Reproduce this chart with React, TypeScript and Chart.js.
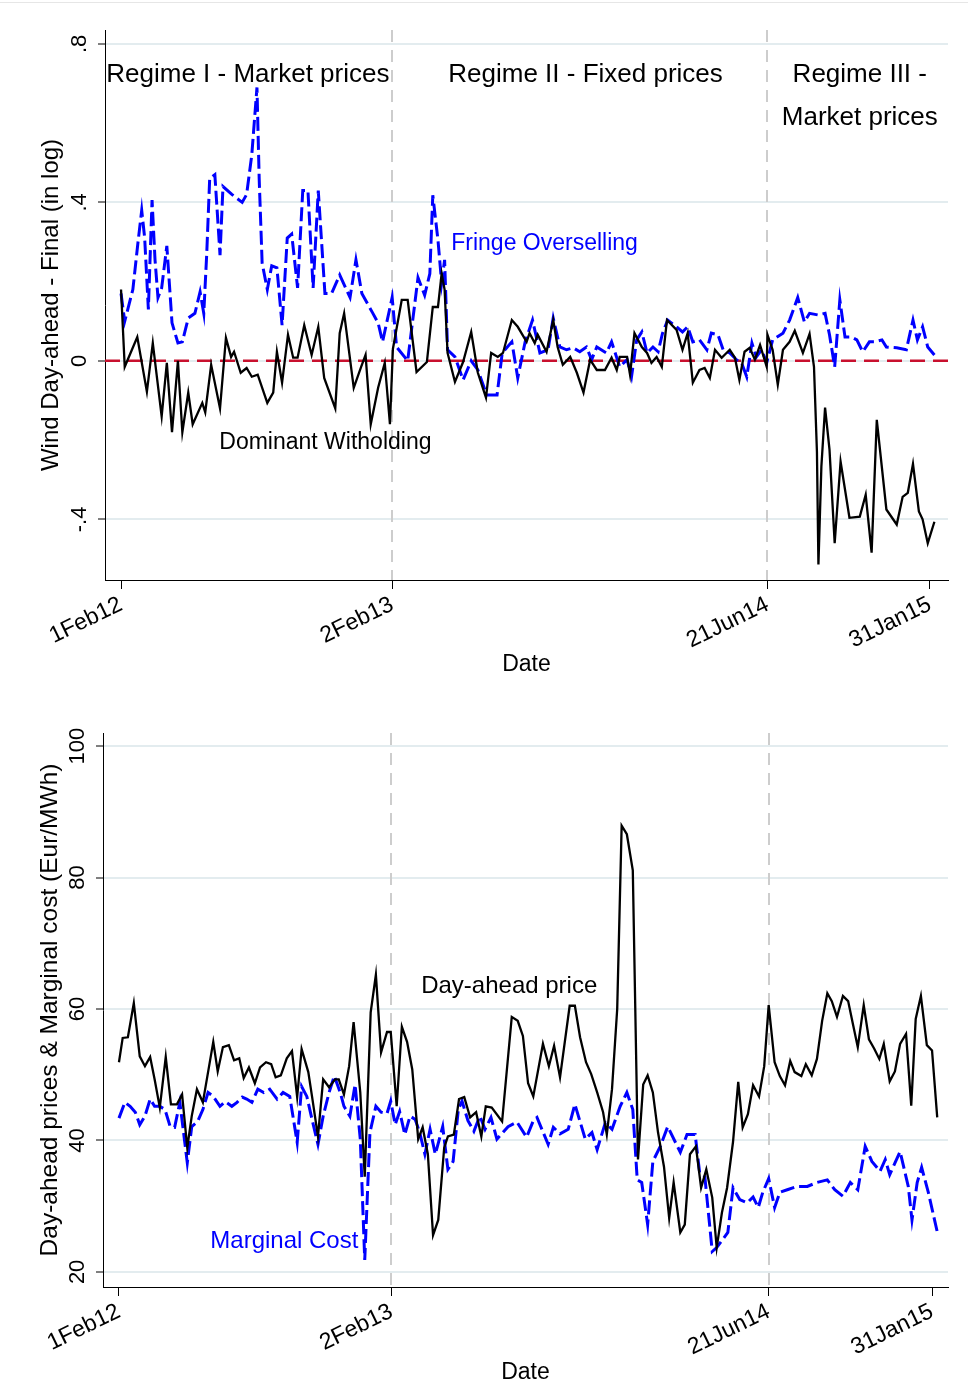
import React, { useEffect, useRef } from 'react';
import { Chart, registerables } from 'chart.js';

Chart.register(...registerables);

const FONT = "'Liberation Sans', Arial, Helvetica, sans-serif";

// ---- shared x-axis (days since 1 Feb 2012) ----
const dateTickDays = [0, 367, 875, 1095];
const dateTickLabels = ['1Feb12', '2Feb13', '21Jun14', '31Jan15'];
const regimeBreakDays = [367, 875];

// ---- top panel: wind day-ahead minus final (log) ----
const topYTicks = [-0.4, 0, 0.4, 0.8];
const topYTickLabels = ['-.4', '0', '.4', '.8'];

const dominantDays = [0, 5, 22, 35, 43, 55, 62, 69, 77, 83, 91, 97, 110, 114, 122, 134, 142, 149, 153, 162, 170, 177, 185, 198, 206, 211, 218, 226, 233, 239, 248, 258, 267, 275, 290, 296, 302, 315, 325, 331, 338, 348, 357, 364, 368, 380, 388, 400, 414, 422, 429, 434, 438, 442, 452, 463, 474, 483, 494, 501, 510, 517, 529, 537, 549, 553, 560, 564, 576, 585, 591, 598, 608, 617, 626, 635, 644, 655, 664, 671, 675, 685, 689, 695, 705, 712, 718, 725, 732, 739, 752, 760, 767, 774, 783, 790, 797, 804, 813, 824, 831, 837, 844, 851, 858, 865, 874, 875, 882, 889, 896, 905, 912, 923, 932, 938, 942, 944, 948, 953, 959, 966, 974, 986, 1000, 1008, 1016, 1023, 1036, 1050, 1058, 1065, 1072, 1080, 1085, 1092, 1101];
const dominantWitholding = [0.18, -0.015, 0.06, -0.078, 0.045, -0.14, -0.005, -0.18, 0.0, -0.18, -0.08, -0.16, -0.106, -0.13, -0.01, -0.12, 0.058, 0.01, 0.023, -0.03, -0.018, -0.04, -0.035, -0.106, -0.08, 0.023, -0.055, 0.066, 0.008, 0.008, 0.09, 0.015, 0.086, -0.043, -0.12, 0.07, 0.12, -0.068, -0.015, 0.015, -0.16, -0.068, -0.005, -0.16, 0.03, 0.154, 0.154, -0.028, -0.003, 0.136, 0.136, 0.22, 0.18, 0.02, -0.053, -0.003, 0.073, -0.03, -0.093, 0.02, 0.01, 0.02, 0.103, 0.086, 0.048, 0.07, 0.045, 0.066, 0.023, 0.103, 0.035, -0.01, 0.01, -0.03, -0.08, 0.003, -0.023, -0.023, 0.008, -0.023, 0.01, 0.01, -0.035, 0.07, 0.035, 0.02, -0.005, 0.01, -0.015, 0.103, 0.078, 0.028, 0.07, -0.055, -0.023, -0.018, -0.043, 0.028, 0.008, 0.028, 0.008, -0.048, 0.023, 0.033, 0.003, 0.04, -0.015, 0.066, 0.028, -0.06, 0.028, 0.048, 0.076, 0.02, 0.068, -0.015, -0.23, -0.514, -0.267, -0.118, -0.224, -0.46, -0.254, -0.396, -0.393, -0.338, -0.484, -0.149, -0.375, -0.413, -0.343, -0.333, -0.26, -0.38, -0.4, -0.46, -0.406];

const fringeDays = [0, 5, 16, 23, 28, 32, 37, 42, 46, 50, 55, 62, 69, 77, 83, 91, 100, 107, 112, 116, 120, 127, 134, 138, 150, 164, 170, 177, 184, 187, 191, 198, 204, 211, 218, 225, 231, 239, 246, 253, 260, 267, 276, 285, 296, 310, 318, 326, 340, 348, 354, 367, 373, 388, 402, 411, 418, 422, 429, 434, 438, 442, 452, 463, 474, 483, 495, 509, 516, 529, 537, 547, 557, 567, 578, 585, 594, 603, 612, 621, 630, 637, 644, 657, 664, 675, 685, 691, 698, 705, 712, 720, 727, 733, 740, 752, 760, 767, 774, 783, 793, 799, 808, 815, 824, 833, 840, 847, 854, 860, 867, 874, 882, 896, 905, 916, 925, 932, 943, 953, 959, 966, 973, 980, 989, 996, 1004, 1013, 1020, 1030, 1036, 1050, 1063, 1072, 1078, 1085, 1092, 1101];
const fringeOverselling = [0.17, 0.1, 0.18, 0.3, 0.38, 0.31, 0.13, 0.406, 0.255, 0.16, 0.184, 0.29, 0.096, 0.045, 0.048, 0.108, 0.12, 0.174, 0.12, 0.27, 0.46, 0.47, 0.267, 0.44, 0.42, 0.4, 0.42, 0.52, 0.69, 0.46, 0.247, 0.18, 0.24, 0.235, 0.09, 0.31, 0.32, 0.184, 0.43, 0.43, 0.184, 0.43, 0.17, 0.17, 0.217, 0.16, 0.255, 0.17, 0.123, 0.096, 0.048, 0.16, 0.035, 0.0, 0.21, 0.166, 0.22, 0.418, 0.305, 0.197, 0.255, 0.028, 0.01, -0.048, 0.0, -0.023, -0.086, -0.086, 0.02, 0.048, -0.043, 0.048, 0.103, 0.02, 0.028, 0.108, 0.035, 0.028, 0.033, 0.023, 0.035, 0.003, 0.035, 0.02, 0.048, -0.015, 0.003, -0.04, 0.053, 0.073, 0.02, 0.035, 0.023, 0.07, 0.103, 0.086, 0.073, 0.086, 0.048, 0.053, 0.028, 0.07, 0.066, 0.028, 0.02, 0.003, -0.005, -0.04, 0.045, 0.01, 0.028, -0.005, 0.053, 0.07, 0.103, 0.16, 0.098, 0.12, 0.116, 0.12, 0.066, -0.015, 0.154, 0.06, 0.06, 0.053, 0.023, 0.048, 0.048, 0.053, 0.035, 0.033, 0.028, 0.103, 0.053, 0.086, 0.035, 0.015];

// ---- bottom panel: day-ahead price & marginal cost (Eur/MWh) ----
const bottomYTicks = [20, 40, 60, 80, 100];
const bottomYTickLabels = ['20', '40', '60', '80', '100'];

const priceDays = [0, 5, 12, 20, 28, 35, 42, 48, 55, 63, 70, 78, 85, 92, 98, 105, 113, 120, 127, 133, 140, 148, 155, 162, 168, 175, 183, 190, 198, 205, 211, 218, 226, 233, 240, 246, 255, 260, 268, 275, 283, 291, 296, 303, 310, 316, 325, 331, 339, 346, 353, 361, 366, 374, 381, 388, 395, 403, 409, 416, 423, 430, 438, 443, 451, 458, 465, 473, 481, 488, 494, 502, 516, 529, 537, 544, 551, 558, 571, 579, 586, 594, 607, 614, 621, 629, 636, 644, 652, 657, 664, 671, 677, 684, 692, 699, 706, 712, 719, 726, 734, 741, 747, 756, 762, 769, 777, 784, 791, 799, 805, 812, 819, 827, 834, 840, 847, 854, 862, 869, 875, 883, 890, 897, 904, 910, 919, 925, 933, 940, 947, 954, 960, 967, 975, 982, 989, 995, 1003, 1010, 1017, 1024, 1030, 1038, 1045, 1052, 1060, 1067, 1073, 1080, 1088, 1095, 1102];
const dayAheadPrice = [51.9, 55.6, 55.7, 60.9, 52.8, 51.3, 52.7, 49.3, 45, 52.7, 45.5, 45.5, 47, 38.9, 43.7, 47.8, 45.8, 50.4, 55, 50.5, 54.2, 54.5, 52.2, 52.5, 49.5, 51.1, 48.7, 51.1, 51.9, 51.6, 49.6, 49.9, 52.5, 53.6, 46.6, 53.9, 50.4, 46.7, 40.6, 49.3, 48.1, 49.3, 49.3, 47, 51.3, 58, 47.3, 34.5, 59.5, 65.2, 53.4, 56.5, 56.5, 45.2, 57.3, 55, 50.8, 40.2, 42, 37.9, 25.6, 27.9, 38.9, 40.6, 40.9, 46.3, 46.6, 43.5, 44.3, 40.6, 45.2, 45, 42.9, 58.8, 58.2, 55.9, 48.7, 46.7, 54.7, 51.3, 54.4, 49.6, 60.5, 60.5, 55.7, 51.9, 50.1, 47.3, 44.3, 40.9, 47.8, 60, 87.9, 86.6, 81.1, 37.1, 48.5, 49.9, 47.3, 41.2, 36, 28.2, 33.6, 26, 27.2, 37.9, 39.1, 32.8, 35.6, 31.3, 23.7, 29, 32.8, 39.8, 48.9, 42, 44, 48.4, 46.7, 51.3, 60.6, 51.9, 49.8, 48.4, 52.1, 50.4, 49.8, 51.6, 49.9, 52.4, 58.2, 62.4, 61.2, 58.8, 62, 61.2, 57.4, 54.2, 60.6, 55.4, 54, 52.4, 54.7, 49, 50.5, 54.7, 56.2, 45.3, 58.5, 62, 54.5, 53.7, 43.5];

const costDays = [0, 8, 15, 22, 28, 35, 42, 48, 55, 62, 69, 75, 82, 92, 98, 106, 113, 120, 127, 136, 143, 152, 159, 166, 172, 179, 187, 195, 203, 213, 221, 230, 240, 246, 253, 260, 268, 275, 283, 290, 298, 303, 311, 318, 325, 331, 338, 346, 353, 361, 366, 372, 378, 385, 392, 399, 405, 412, 419, 426, 436, 443, 450, 457, 462, 470, 478, 486, 493, 501, 509, 524, 536, 549, 558, 563, 578, 585, 594, 605, 614, 628, 637, 644, 655, 664, 675, 684, 692, 698, 704, 712, 719, 729, 739, 756, 765, 776, 782, 789, 799, 805, 820, 827, 836, 846, 854, 861, 867, 875, 883, 890, 900, 913, 927, 940, 954, 964, 975, 985, 995, 1005, 1014, 1025, 1032, 1038, 1052, 1063, 1068, 1075, 1081, 1090, 1102];
const marginalCost = [43.4, 45.8, 45.2, 44.3, 42.4, 43.7, 46.3, 45.2, 45.2, 44.7, 42.1, 42, 45.8, 36.6, 42.1, 42.9, 44.7, 47.3, 46.7, 45.2, 45.9, 45.2, 45.8, 46.6, 46.3, 45.8, 47.8, 47.3, 47.8, 46.3, 47.3, 46.7, 39.7, 48.2, 46.7, 43.2, 39.4, 43.7, 47.3, 49.8, 47.3, 45.2, 43.7, 48.5, 40.2, 21.8, 41.2, 45.2, 44.3, 44.1, 46, 42.4, 44.4, 40.9, 43.7, 43.2, 41.2, 37.9, 41.7, 37.9, 42.1, 35.6, 36.8, 44.7, 46, 43, 41.4, 43.7, 41.7, 43.5, 40.2, 42.1, 42.8, 40.5, 43, 43.5, 39.4, 42, 41, 41.7, 45.5, 40.2, 41.2, 38.6, 42.7, 41.7, 45.2, 47.3, 44.7, 34, 33.6, 27.2, 36.8, 39.1, 42.1, 38.2, 40.9, 40.9, 35.1, 34.5, 23.1, 23.7, 26, 32.8, 31, 30.5, 31.4, 29.8, 32.1, 34.2, 29.8, 32.1, 32.5, 33, 33, 33.6, 34, 32.5, 31.5, 33.6, 32.5, 39.1, 36.8, 35.3, 37.1, 34.8, 38.3, 33, 27.9, 33.6, 35.9, 32.1, 26.1];

type Note = { text: string; x: number; y: number; color: string; size: number; align: CanvasTextAlign };

const topNotes: Note[] = [
  { text: 'Regime I - Market prices', x: -20, y: 0.722, color: '#000', size: 26, align: 'left' },
  { text: 'Regime II - Fixed prices', x: 443, y: 0.722, color: '#000', size: 26, align: 'left' },
  { text: 'Regime III -', x: 1000, y: 0.722, color: '#000', size: 26, align: 'center' },
  { text: 'Market prices', x: 1000, y: 0.613, color: '#000', size: 26, align: 'center' },
  { text: 'Fringe Overselling', x: 447, y: 0.295, color: '#0000ff', size: 23, align: 'left' },
  { text: 'Dominant Witholding', x: 133, y: -0.207, color: '#000', size: 23, align: 'left' },
];

const bottomNotes: Note[] = [
  { text: 'Day-ahead price', x: 407, y: 63.5, color: '#000', size: 24, align: 'left' },
  { text: 'Marginal Cost', x: 123, y: 24.7, color: '#0000ff', size: 24, align: 'left' },
];

const toPoints = (xs: number[], ys: number[]) => xs.map((x, i) => ({ x, y: ys[i] }));

const regimeLinesPlugin = {
  id: 'regimeLines',
  beforeDatasetsDraw(chart: any) {
    const { ctx, chartArea, scales } = chart;
    ctx.save();
    ctx.strokeStyle = '#cdcdcd';
    ctx.lineWidth = 2;
    ctx.setLineDash([12, 8]);
    regimeBreakDays.forEach((d) => {
      const px = Math.round(scales.x.getPixelForValue(d));
      ctx.beginPath();
      ctx.moveTo(px, chartArea.top);
      ctx.lineTo(px, chartArea.bottom);
      ctx.stroke();
    });
    ctx.restore();
  },
};

function makeYLabelPlugin(values: number[], labels: string[], baselineX: number, size: number) {
  return {
    id: 'rotatedYLabels',
    afterDraw(chart: any) {
      const { ctx, scales } = chart;
      ctx.save();
      ctx.fillStyle = '#000';
      ctx.font = `${size}px ${FONT}`;
      ctx.textAlign = 'center';
      ctx.textBaseline = 'alphabetic';
      values.forEach((v, i) => {
        const py = scales.y.getPixelForValue(v);
        ctx.save();
        ctx.translate(baselineX, py);
        ctx.rotate(-Math.PI / 2);
        ctx.fillText(labels[i], 0, 0);
        ctx.restore();
      });
      ctx.restore();
    },
  };
}

function makeNotesPlugin(notes: Note[]) {
  return {
    id: 'notes',
    afterDatasetsDraw(chart: any) {
      const { ctx, scales } = chart;
      ctx.save();
      ctx.textBaseline = 'middle';
      notes.forEach((n) => {
        ctx.font = `${n.size}px ${FONT}`;
        ctx.fillStyle = n.color;
        ctx.textAlign = n.align;
        ctx.fillText(n.text, scales.x.getPixelForValue(n.x), scales.y.getPixelForValue(n.y));
      });
      ctx.restore();
    },
  };
}

type PanelProps = {
  height: number;
  top: number;
  plotTop: number;
  axisWidth: number;
  axisHeight: number;
  xMin: number;
  xMax: number;
  yMin: number;
  yMax: number;
  yTicks: number[];
  yTickLabels: string[];
  yLabelX: number;
  yTitle: string;
  yTitleSize: number;
  yTitlePad: number;
  xTitlePad: number;
  datasets: any[];
  notes: Note[];
};

function Panel(p: PanelProps) {
  const ref = useRef<HTMLCanvasElement | null>(null);
  useEffect(() => {
    if (!ref.current) return;
    const chart = new Chart(ref.current, {
      type: 'line',
      data: { datasets: p.datasets },
      options: {
        animation: false,
        responsive: false,
        maintainAspectRatio: false,
        devicePixelRatio: 1,
        layout: { padding: { top: p.plotTop, right: 20, left: 0, bottom: 0 } },
        plugins: { legend: { display: false }, tooltip: { enabled: false } },
        elements: { point: { radius: 0 }, line: { tension: 0 } },
        scales: {
          x: {
            type: 'linear',
            min: p.xMin,
            max: p.xMax,
            afterBuildTicks: (s: any) => {
              s.ticks = dateTickDays.map((v) => ({ value: v }));
            },
            afterFit: (s: any) => {
              s.height = p.axisHeight;
            },
            ticks: {
              autoSkip: false,
              minRotation: 26,
              maxRotation: 26,
              padding: 2,
              color: '#000',
              font: { family: FONT, size: 23 },
              callback: (_v: any, i: number) => dateTickLabels[i],
            },
            grid: { drawOnChartArea: false, drawTicks: true, tickLength: 9, tickColor: '#000', tickWidth: 1 },
            border: { display: true, color: '#000', width: 1 },
            title: {
              display: true,
              text: 'Date',
              color: '#000',
              font: { family: FONT, size: 23 },
              padding: { top: 0, bottom: p.xTitlePad },
            },
          },
          y: {
            type: 'linear',
            min: p.yMin,
            max: p.yMax,
            afterBuildTicks: (s: any) => {
              s.ticks = p.yTicks.map((v) => ({ value: v }));
            },
            afterFit: (s: any) => {
              s.width = p.axisWidth;
            },
            ticks: { display: false },
            grid: { color: '#e3ecef', lineWidth: 2, drawTicks: true, tickLength: 7, tickColor: '#000', tickWidth: 1 },
            border: { display: true, color: '#000', width: 1 },
            title: {
              display: true,
              text: p.yTitle,
              color: '#000',
              font: { family: FONT, size: p.yTitleSize },
              padding: { top: p.yTitlePad, bottom: 0 },
            },
          },
        },
      },
      plugins: [
        regimeLinesPlugin,
        makeNotesPlugin(p.notes),
        makeYLabelPlugin(p.yTicks, p.yTickLabels, p.yLabelX, 22),
      ],
    } as any);
    return () => chart.destroy();
  }, []);
  return (
    <canvas
      ref={ref}
      width={968}
      height={p.height}
      style={{ position: 'absolute', left: 0, top: p.top, width: 968, height: p.height }}
    />
  );
}

export default function App() {
  const topX = { min: -21.7, max: 1119.4 };
  const botX = { min: -21.5, max: 1116.5 };
  const topDatasets = [
    {
      label: 'Dominant Witholding',
      data: toPoints(dominantDays, dominantWitholding),
      borderColor: '#000000',
      borderWidth: 2.3,
      pointRadius: 0,
      fill: false,
      order: 0,
    },
    {
      label: 'Fringe Overselling',
      data: toPoints(fringeDays, fringeOverselling),
      borderColor: '#0000ff',
      borderWidth: 3,
      borderDash: [14, 5],
      pointRadius: 0,
      fill: false,
      order: 1,
    },
    {
      label: 'zero',
      data: toPoints([topX.min, topX.max], [0, 0]),
      borderColor: '#c8102e',
      borderWidth: 2.5,
      borderDash: [15, 8],
      pointRadius: 0,
      fill: false,
      order: 2,
    },
  ];
  const bottomDatasets = [
    {
      label: 'Day-ahead price',
      data: toPoints(priceDays, dayAheadPrice),
      borderColor: '#000000',
      borderWidth: 2.3,
      pointRadius: 0,
      fill: false,
      order: 0,
    },
    {
      label: 'Marginal Cost',
      data: toPoints(costDays, marginalCost),
      borderColor: '#0000ff',
      borderWidth: 3,
      borderDash: [14, 5],
      pointRadius: 0,
      fill: false,
      order: 1,
    },
  ];
  return (
    <div style={{ position: 'absolute', left: 0, top: 0, width: 968, height: 1389, background: '#fff', overflow: 'hidden' }}>
      <div style={{ position: 'absolute', left: 0, top: 2, width: 968, height: 1, background: '#e6e6e6' }} />
      <Panel
        height={690}
        top={0}
        plotTop={30}
        axisWidth={105}
        axisHeight={110}
        xMin={topX.min}
        xMax={topX.max}
        yMin={-0.553}
        yMax={0.835}
        yTicks={topYTicks}
        yTickLabels={topYTickLabels}
        yLabelX={86}
        yTitle="Wind Day-ahead - Final (in log)"
        yTitleSize={24}
        yTitlePad={37}
        xTitlePad={12}
        datasets={topDatasets}
        notes={topNotes}
      />
      <Panel
        height={689}
        top={700}
        plotTop={33}
        axisWidth={103}
        axisHeight={102}
        xMin={botX.min}
        xMax={botX.max}
        yMin={17.7}
        yMax={102}
        yTicks={bottomYTicks}
        yTickLabels={bottomYTickLabels}
        yLabelX={84}
        yTitle="Day-ahead prices & Marginal cost (Eur/MWh)"
        yTitleSize={24.5}
        yTitlePad={36}
        xTitlePad={3}
        datasets={bottomDatasets}
        notes={bottomNotes}
      />
    </div>
  );
}
